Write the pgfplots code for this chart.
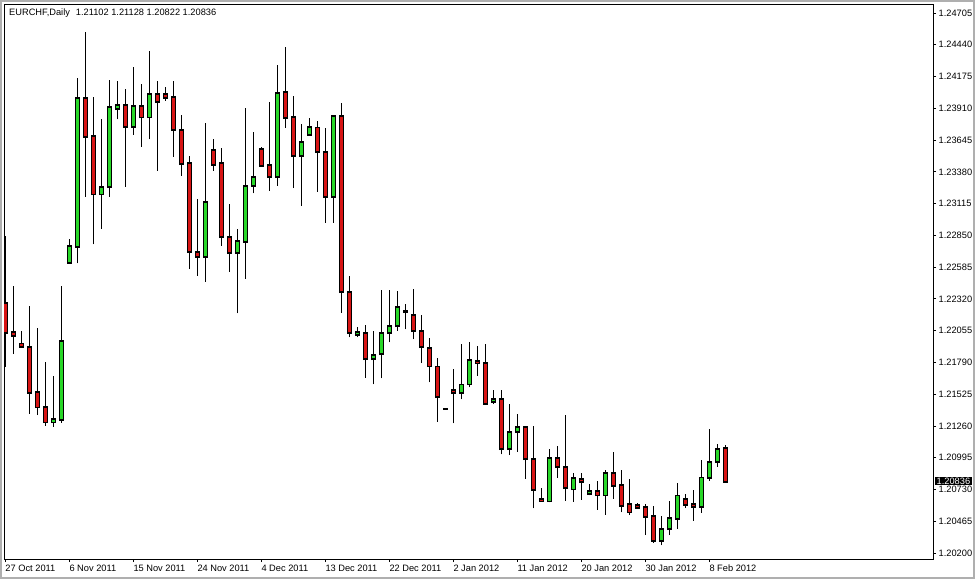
\documentclass[border=0pt]{standalone}
\usepackage{fontspec}
\setmainfont{Liberation Sans}
\usepackage{pgfplots}
\usepackage{pgfplotstable}
\pgfplotsset{compat=1.18}
\definecolor{bullc}{RGB}{40,215,40}
\definecolor{bearc}{RGB}{215,20,20}
\definecolor{framec}{RGB}{175,175,175}
% i = trading day index (Sun-Fri sessions), O H L C
\pgfplotstableread{
i O H L C
6 1.21290 1.21677 1.21254 1.21318
7 1.21309 1.22427 1.21287 1.21966
8 1.22622 1.22820 1.22617 1.22761
9 1.22755 1.24160 1.22617 1.23993
12 1.23192 1.23821 1.22903 1.23251
13 1.23251 1.24146 1.23172 1.23918
14 1.23902 1.24140 1.23818 1.23935
16 1.23756 1.24252 1.23690 1.23927
18 1.23832 1.24388 1.23651 1.24027
25 1.22672 1.23785 1.22463 1.23126
29 1.22700 1.22900 1.22200 1.22800
30 1.22797 1.23915 1.22488 1.23262
31 1.23262 1.23712 1.23201 1.23334
34 1.23334 1.24271 1.23264 1.24035
37 1.23510 1.23779 1.23097 1.23626
38 1.23687 1.23827 1.23681 1.23754
41 1.23172 1.23857 1.22956 1.23846
44 1.22016 1.22088 1.21999 1.22044
46 1.21816 1.22052 1.21607 1.21849
47 1.21858 1.22394 1.21657 1.22033
48 1.22033 1.22394 1.21958 1.22091
49 1.22091 1.22386 1.22055 1.22250
57 1.21532 1.21941 1.21482 1.21607
58 1.21607 1.21958 1.21582 1.21808
61 1.21457 1.21557 1.21443 1.21485
63 1.21065 1.21440 1.21017 1.21207
64 1.21207 1.21357 1.21045 1.21251
68 1.20631 1.21068 1.20623 1.20990
71 1.20731 1.20867 1.20628 1.20823
73 1.20690 1.20773 1.20681 1.20717
75 1.20681 1.20892 1.20519 1.20865
82 1.20302 1.20509 1.20264 1.20398
83 1.20398 1.20634 1.20350 1.20492
84 1.20486 1.20784 1.20403 1.20681
87 1.20586 1.20976 1.20536 1.20831
88 1.20828 1.21234 1.20803 1.20959
89 1.20957 1.21109 1.20920 1.21065
}\bulltab
\pgfplotstableread{
i O H L C
0 1.22283 1.22845 1.21754 1.22038
1 1.22041 1.22427 1.21860 1.22008
2 1.21949 1.22052 1.21913 1.21921
3 1.21919 1.22261 1.21360 1.21537
4 1.21541 1.22077 1.21351 1.21415
5 1.21418 1.21793 1.21262 1.21290
10 1.23993 1.24544 1.23170 1.23673
11 1.23679 1.24004 1.22775 1.23192
15 1.23935 1.24068 1.23256 1.23756
17 1.23927 1.24113 1.23590 1.23832
19 1.24027 1.24138 1.23389 1.23960
20 1.24027 1.24085 1.23973 1.23998
21 1.24002 1.24138 1.23506 1.23726
22 1.23726 1.23854 1.23348 1.23443
23 1.23451 1.23512 1.22569 1.22709
24 1.22709 1.23153 1.22513 1.22672
26 1.23562 1.23654 1.23389 1.23437
27 1.23451 1.23581 1.22764 1.22834
28 1.22834 1.23112 1.22547 1.22700
32 1.23568 1.23590 1.23423 1.23431
33 1.23437 1.23965 1.23222 1.23334
35 1.24046 1.24421 1.23748 1.23827
36 1.23835 1.24013 1.23243 1.23510
39 1.23751 1.23804 1.23214 1.23543
40 1.23545 1.23743 1.22956 1.23172
42 1.23846 1.23957 1.22205 1.22375
43 1.22375 1.22511 1.21999 1.22033
45 1.22033 1.22102 1.21662 1.21816
50 1.22219 1.22277 1.22066 1.22208
51 1.22186 1.22400 1.21983 1.22050
52 1.22050 1.22186 1.21783 1.21916
53 1.21908 1.21991 1.21624 1.21757
54 1.21757 1.21824 1.21295 1.21499
55 1.21401 1.21401 1.21401 1.21401
56 1.21557 1.21732 1.21282 1.21532
59 1.21802 1.21927 1.21679 1.21783
60 1.21783 1.21944 1.21443 1.21445
62 1.21482 1.21557 1.21023 1.21065
65 1.21251 1.21251 1.20820 1.20982
66 1.20982 1.21262 1.20573 1.20723
67 1.20650 1.20740 1.20634 1.20634
69 1.20990 1.21093 1.20828 1.20915
70 1.20915 1.21351 1.20636 1.20740
72 1.20815 1.20867 1.20645 1.20790
74 1.20715 1.20800 1.20559 1.20681
76 1.20865 1.21043 1.20653 1.20761
77 1.20765 1.20892 1.20539 1.20594
78 1.20606 1.20817 1.20517 1.20539
79 1.20598 1.20615 1.20569 1.20575
80 1.20584 1.20606 1.20350 1.20503
81 1.20509 1.20592 1.20286 1.20300
85 1.20650 1.20692 1.20575 1.20603
86 1.20606 1.20725 1.20469 1.20586
90 1.21076 1.21101 1.20786 1.20795
}\beartab
\pgfplotsset{
  candle/.style 2 args={draw=none, mark=none, error bars/.cd, y dir=plus, y explicit, error mark=none,
    error bar style={draw=#1, line width=#2}},
}
\begin{document}
\begin{tikzpicture}
\path[use as bounding box, fill=white] (0,0) rectangle (975bp,579bp);
\draw[framec, line width=2bp] (1bp,1bp) rectangle (974bp,578bp);
\begin{axis}[
  at={(4bp,20bp)}, anchor=south west,
  width=929bp, height=555bp, scale only axis,
  xmin=-0.1625, xmax=115.96,
  ymin=1.20150, ymax=1.24780,
  clip mode=individual,
  axis line style={black, line width=0.8bp},
  font=\fontsize{9.3}{10}\selectfont,
  tick align=outside, major tick length=3bp,
  tick style={black, line width=0.8bp},
  xtick pos=left, ytick pos=right, yticklabel pos=right,
  xtick={0,8,16,24,32,40,48,56,64,72,80,88},
  xticklabels={27 Oct 2011,6 Nov 2011,15 Nov 2011,24 Nov 2011,4 Dec 2011,13 Dec 2011,22 Dec 2011,2 Jan 2012,11 Jan 2012,20 Jan 2012,30 Jan 2012,8 Feb 2012},
  xticklabel style={anchor=north west, inner sep=0pt, xshift=0bp, yshift=-3bp},
  ytick={1.20200,1.20465,1.20730,1.20995,1.21260,1.21525,1.21790,1.22055,1.22320,1.22585,1.22850,1.23115,1.23380,1.23645,1.23910,1.24175,1.24440,1.24705},
  yticklabels={1.20200,1.20465,1.20730,1.20995,1.21260,1.21525,1.21790,1.22055,1.22320,1.22585,1.22850,1.23115,1.23380,1.23645,1.23910,1.24175,1.24440,1.24705},
  yticklabel style={anchor=west, inner sep=0pt, xshift=2.5bp},
  minor tick num=0,
]
% wicks
\addplot[candle={black}{1bp}]
  table[x=i, y=L, y error plus expr=\thisrow{H}-\thisrow{L}] {\bulltab};
\addplot[candle={black}{1bp}]
  table[x=i, y=L, y error plus expr=\thisrow{H}-\thisrow{L}] {\beartab};
% body outlines
\addplot[candle={black}{5.2bp}]
  table[x=i, y expr=\thisrow{O}-0.00007, y error plus expr=\thisrow{C}-\thisrow{O}+0.00014] {\bulltab};
\addplot[candle={black}{5.2bp}]
  table[x=i, y expr=\thisrow{C}-0.00007, y error plus expr=\thisrow{O}-\thisrow{C}+0.00014] {\beartab};
% body fills
\addplot[candle={bullc}{3.4bp}]
  table[x=i, y expr=\thisrow{O}+0.00007, y error plus expr={max(\thisrow{C}-\thisrow{O}-0.00014,0)}] {\bulltab};
\addplot[candle={bearc}{3.4bp}]
  table[x=i, y expr=\thisrow{C}+0.00007, y error plus expr={max(\thisrow{O}-\thisrow{C}-0.00014,0)}] {\beartab};
\node[anchor=west, inner sep=0pt, xshift=5bp, yshift=-9bp] at (rel axis cs:0,1)
  {EURCHF,Daily\hspace{6bp}1.21102 1.21128 1.20822 1.20836};
\node[fill=black, text=white, inner xsep=2bp, inner ysep=1bp, anchor=west, xshift=1.5bp]
  at (axis cs:115.96,1.20800) {1.20836};
\end{axis}
\end{tikzpicture}
\end{document}
